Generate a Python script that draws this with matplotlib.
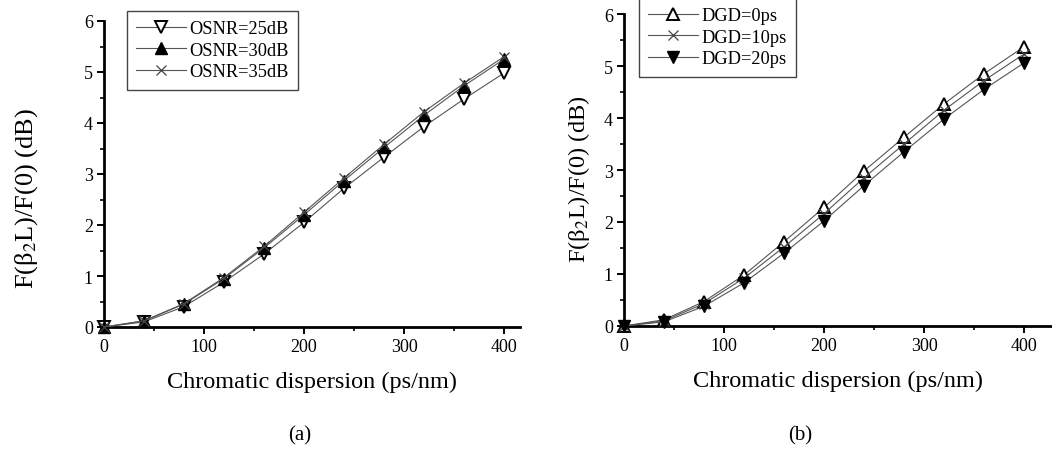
import numpy as np
import matplotlib
matplotlib.use("Agg")
import matplotlib.pyplot as plt
from matplotlib.ticker import MultipleLocator

plt.rcParams['font.family'] = ['Liberation Serif', 'DejaVu Serif']
plt.rcParams['mathtext.fontset'] = 'stix'

# chromatic dispersion (ps/nm)
cd = [0, 40, 80, 120, 160, 200, 240, 280, 320, 360, 400]

# (a) penalty vs. CD for different OSNR
osnr_25 = [0, 0.10, 0.40, 0.88, 1.43, 2.05, 2.72, 3.33, 3.93, 4.47, 4.98]
osnr_30 = [0, 0.12, 0.45, 0.95, 1.55, 2.20, 2.87, 3.52, 4.15, 4.73, 5.25]
osnr_35 = [0, 0.12, 0.46, 0.97, 1.58, 2.25, 2.92, 3.58, 4.22, 4.78, 5.30]
labels_a = ['OSNR=25dB', 'OSNR=30dB', 'OSNR=35dB']

# (b) penalty vs. CD for different DGD
dgd_0 = [0, 0.12, 0.47, 0.98, 1.62, 2.28, 2.98, 3.63, 4.27, 4.85, 5.37]
dgd_10 = [0, 0.10, 0.43, 0.92, 1.52, 2.16, 2.85, 3.50, 4.15, 4.72, 5.23]
dgd_20 = [0, 0.08, 0.38, 0.83, 1.40, 2.02, 2.70, 3.35, 3.98, 4.55, 5.06]
labels_b = ['DGD=0ps', 'DGD=10ps', 'DGD=20ps']

W, H = 1052, 452
fig = plt.figure(figsize=(W / 100, H / 100), dpi=100)

ylab = 'F(β$_2$L)/F(0) (dB)'
line_kw = dict(color='#555555', lw=0.8, clip_on=False, zorder=3)
leg_kw = dict(loc='upper left', fontsize=13.2, frameon=True, fancybox=False,
              edgecolor='#444444', framealpha=1, borderpad=0.5,
              labelspacing=0.25, handlelength=2.7, handletextpad=0.2,
              borderaxespad=0)


def style_axes(ax, xmax, ysize, ypos):
    ax.set_xlim(0, xmax)
    ax.set_ylim(0, 6)
    for s in ['top', 'right']:
        ax.spines[s].set_visible(False)
    for s in ['left', 'bottom']:
        ax.spines[s].set_linewidth(2)
    ax.xaxis.set_major_locator(MultipleLocator(100))
    ax.xaxis.set_minor_locator(MultipleLocator(50))
    ax.yaxis.set_major_locator(MultipleLocator(1))
    ax.yaxis.set_minor_locator(MultipleLocator(0.5))
    ax.tick_params(which='major', length=5, width=1.4, labelsize=13, pad=3)
    ax.tick_params(which='minor', length=3, width=1.2)
    ax.set_xlabel('Chromatic dispersion (ps/nm)', fontsize=17.5, labelpad=11)
    ax.set_ylabel(ylab, fontsize=ysize, va='center')
    ax.yaxis.set_label_coords(*ypos)


# panel (a)
ax1 = fig.add_axes([104 / W, 1 - 328 / H, 416 / W, 306 / H])
ax1.plot(cd, osnr_25, marker='v', ms=9, mfc='white', mec='black', mew=1.4,
         label=labels_a[0], **line_kw)
ax1.plot(cd, osnr_30, marker='^', ms=9, mfc='black', mec='black',
         label=labels_a[1], **line_kw)
ax1.plot(cd, osnr_35, marker='x', ms=7, mec='#444444', mew=0.9,
         label=labels_a[2], **line_kw)
style_axes(ax1, 416, 19, ((27 - 104) / 416, (328 - 198) / 306))
ax1.legend(bbox_to_anchor=(23 / 416, 1 + 10 / 306), **leg_kw)
fig.text(300 / W, 1 - 436 / H, '(a)', ha='center', va='center', fontsize=15)

# panel (b)
ax2 = fig.add_axes([624 / W, 1 - 327 / H, 428 / W, 312 / H])
ax2.plot(cd, dgd_0, marker='^', ms=9, mfc='white', mec='black', mew=1.4,
         label=labels_b[0], **line_kw)
ax2.plot(cd, dgd_10, marker='x', ms=7, mec='#444444', mew=0.9,
         label=labels_b[1], **line_kw)
ax2.plot(cd, dgd_20, marker='v', ms=9, mfc='black', mec='black',
         label=labels_b[2], **line_kw)
style_axes(ax2, 428, 17.6, ((579 - 624) / 428, (327 - 179) / 312))
ax2.legend(bbox_to_anchor=(15 / 428, 1 + 16 / 312), **leg_kw)
fig.text(800 / W, 1 - 436 / H, '(b)', ha='center', va='center', fontsize=15)

fig.savefig('out.png', dpi=100)
